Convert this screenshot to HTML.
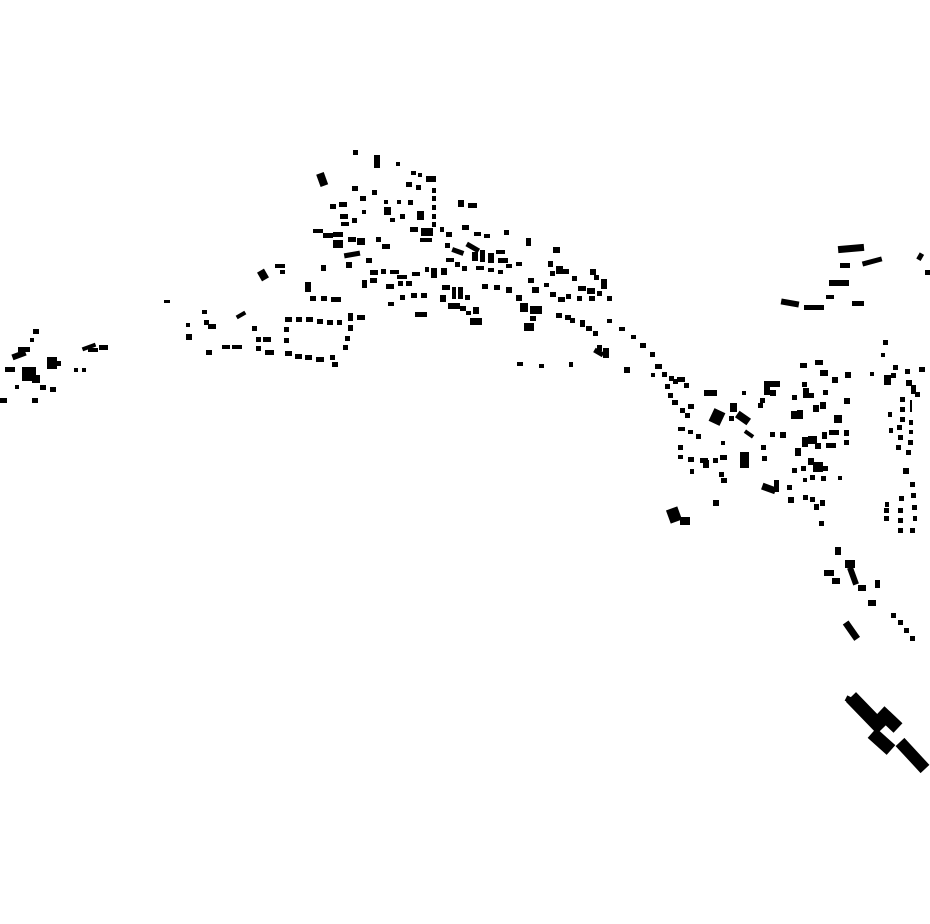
<!DOCTYPE html>
<html><head><meta charset="utf-8"><style>html,body{margin:0;padding:0;background:#fff}svg{display:block}</style></head>
<body>
<svg width="930" height="924" viewBox="0 0 930 924" xmlns="http://www.w3.org/2000/svg">
<g fill="#000">
<!-- left cluster -->
<rect x="33" y="329" width="6" height="5"/><rect x="30" y="338" width="4" height="4"/>
<rect x="12" y="352" width="14" height="6" transform="rotate(-20 19 355)"/><rect x="18" y="347" width="12" height="5"/>
<rect x="5" y="367" width="10" height="5"/><rect x="22" y="367" width="14" height="14"/><rect x="32" y="375" width="8" height="8"/>
<rect x="47" y="357" width="10" height="12"/><rect x="55" y="361" width="6" height="5"/>
<rect x="74" y="368" width="4" height="4"/><rect x="82" y="368" width="4" height="4"/>
<rect x="82" y="345" width="14" height="4" transform="rotate(-20 89 347)"/><rect x="88" y="348" width="10" height="4"/><rect x="99" y="345" width="9" height="5"/>
<rect x="40" y="385" width="6" height="5"/><rect x="50" y="387" width="6" height="5"/><rect x="32" y="398" width="6" height="5"/>
<rect x="0" y="398" width="7" height="5"/><rect x="15" y="385" width="4" height="4"/>
<!-- west chain -->
<rect x="164" y="300" width="6" height="3"/>
<rect x="186" y="323" width="4" height="4"/><rect x="186" y="334" width="6" height="6"/><rect x="202" y="310" width="5" height="4"/>
<rect x="204" y="320" width="5" height="5"/><rect x="208" y="324" width="8" height="5"/><rect x="206" y="350" width="6" height="5"/>
<rect x="222" y="345" width="8" height="4"/><rect x="232" y="345" width="10" height="4"/><rect x="236" y="313" width="10" height="4" transform="rotate(-30 241 315)"/>
<rect x="252" y="326" width="5" height="5"/><rect x="256" y="337" width="5" height="5"/><rect x="256" y="346" width="5" height="5"/>
<rect x="265" y="350" width="9" height="5"/><rect x="263" y="337" width="8" height="5"/><rect x="259" y="270" width="8" height="10" transform="rotate(-30 263 275)"/>
<rect x="275" y="264" width="10" height="4"/><rect x="280" y="270" width="5" height="4"/>
<rect x="285" y="317" width="7" height="5"/><rect x="296" y="317" width="6" height="5"/><rect x="306" y="317" width="7" height="5"/><rect x="317" y="319" width="6" height="5"/><rect x="327" y="320" width="6" height="5"/><rect x="337" y="320" width="5" height="5"/><rect x="348" y="313" width="5" height="8"/>
<rect x="284" y="327" width="5" height="5"/><rect x="284" y="338" width="5" height="5"/><rect x="348" y="325" width="5" height="6"/><rect x="345" y="336" width="5" height="5"/><rect x="343" y="345" width="5" height="5"/>
<rect x="285" y="351" width="7" height="5"/><rect x="295" y="354" width="7" height="5"/><rect x="305" y="355" width="7" height="5"/><rect x="316" y="357" width="8" height="5"/><rect x="330" y="355" width="5" height="5"/><rect x="332" y="362" width="6" height="5"/><rect x="357" y="315" width="8" height="5"/>
<!-- main cluster -->
<rect x="353" y="150" width="5" height="5"/><rect x="374" y="155" width="6" height="13"/><rect x="396" y="162" width="4" height="4"/>
<rect x="318" y="173" width="8" height="13" transform="rotate(-20 322 179)"/>
<rect x="411" y="171" width="5" height="4"/><rect x="418" y="173" width="4" height="4"/><rect x="426" y="176" width="10" height="6"/>
<rect x="406" y="182" width="6" height="5"/><rect x="416" y="185" width="5" height="5"/><rect x="432" y="188" width="4" height="5"/><rect x="432" y="196" width="4" height="5"/><rect x="432" y="205" width="4" height="5"/><rect x="432" y="214" width="4" height="5"/><rect x="432" y="222" width="4" height="5"/>
<rect x="352" y="186" width="6" height="5"/><rect x="360" y="196" width="6" height="5"/><rect x="372" y="190" width="5" height="5"/><rect x="384" y="200" width="4" height="4"/><rect x="397" y="200" width="4" height="4"/><rect x="408" y="200" width="5" height="5"/>
<rect x="330" y="204" width="6" height="5"/><rect x="339" y="202" width="8" height="5"/><rect x="340" y="214" width="8" height="5"/><rect x="341" y="222" width="8" height="4"/><rect x="352" y="218" width="5" height="5"/><rect x="362" y="210" width="4" height="4"/>
<rect x="384" y="207" width="7" height="8"/><rect x="390" y="218" width="5" height="4"/><rect x="400" y="214" width="5" height="5"/><rect x="417" y="211" width="7" height="9"/>
<rect x="458" y="200" width="6" height="7"/><rect x="468" y="203" width="9" height="5"/>
<rect x="313" y="229" width="10" height="4"/><rect x="323" y="233" width="10" height="5"/><rect x="333" y="232" width="10" height="5"/><rect x="333" y="240" width="10" height="8"/><rect x="348" y="237" width="8" height="5"/><rect x="357" y="238" width="8" height="7"/><rect x="376" y="237" width="5" height="5"/><rect x="382" y="244" width="8" height="5"/>
<rect x="410" y="227" width="8" height="5"/><rect x="421" y="228" width="12" height="8"/><rect x="420" y="238" width="12" height="4"/><rect x="440" y="227" width="4" height="5"/><rect x="446" y="232" width="6" height="5"/><rect x="462" y="225" width="7" height="5"/><rect x="474" y="232" width="7" height="4"/><rect x="484" y="234" width="6" height="4"/><rect x="504" y="230" width="5" height="5"/><rect x="526" y="238" width="5" height="8"/><rect x="553" y="247" width="7" height="6"/>
<rect x="344" y="252" width="16" height="5" transform="rotate(-10 352 254)"/><rect x="346" y="262" width="6" height="6"/><rect x="321" y="265" width="5" height="6"/><rect x="366" y="258" width="6" height="5"/><rect x="370" y="270" width="8" height="5"/><rect x="381" y="269" width="5" height="5"/><rect x="390" y="270" width="9" height="4"/>
<rect x="445" y="243" width="5" height="5"/><rect x="452" y="249" width="12" height="5" transform="rotate(20 458 251)"/><rect x="466" y="245" width="14" height="5" transform="rotate(30 473 247)"/><rect x="472" y="252" width="6" height="9"/><rect x="480" y="250" width="5" height="12"/><rect x="488" y="253" width="6" height="10"/><rect x="496" y="250" width="9" height="4"/><rect x="498" y="258" width="10" height="5"/><rect x="506" y="264" width="6" height="4"/><rect x="516" y="262" width="6" height="4"/>
<rect x="446" y="258" width="8" height="4"/><rect x="455" y="262" width="5" height="5"/><rect x="462" y="266" width="5" height="5"/><rect x="476" y="266" width="8" height="4"/><rect x="488" y="268" width="6" height="4"/><rect x="498" y="270" width="5" height="4"/>
<rect x="362" y="280" width="5" height="8"/><rect x="370" y="278" width="7" height="5"/><rect x="386" y="284" width="8" height="5"/><rect x="397" y="275" width="10" height="4"/><rect x="398" y="281" width="5" height="5"/><rect x="406" y="281" width="6" height="5"/><rect x="412" y="272" width="8" height="4"/><rect x="425" y="267" width="4" height="5"/><rect x="431" y="268" width="6" height="10"/><rect x="441" y="268" width="6" height="7"/>
<rect x="305" y="282" width="6" height="10"/><rect x="310" y="296" width="6" height="5"/><rect x="321" y="296" width="6" height="5"/><rect x="331" y="297" width="10" height="5"/><rect x="388" y="302" width="6" height="4"/><rect x="400" y="295" width="5" height="5"/><rect x="411" y="293" width="6" height="5"/><rect x="421" y="293" width="6" height="5"/><rect x="415" y="312" width="12" height="5"/>
<rect x="442" y="285" width="8" height="5"/><rect x="440" y="295" width="6" height="7"/><rect x="452" y="287" width="4" height="12"/><rect x="458" y="287" width="5" height="12"/><rect x="465" y="295" width="5" height="5"/><rect x="448" y="303" width="12" height="6"/><rect x="460" y="306" width="6" height="5"/><rect x="466" y="311" width="5" height="4"/><rect x="473" y="307" width="6" height="7"/><rect x="470" y="318" width="12" height="7"/>
<rect x="482" y="284" width="6" height="5"/><rect x="494" y="285" width="6" height="5"/><rect x="506" y="287" width="6" height="6"/><rect x="516" y="295" width="6" height="6"/><rect x="520" y="303" width="8" height="9"/><rect x="530" y="306" width="12" height="8"/><rect x="530" y="316" width="6" height="5"/><rect x="524" y="323" width="10" height="8"/>
<rect x="528" y="278" width="6" height="5"/><rect x="532" y="287" width="7" height="6"/><rect x="544" y="283" width="5" height="4"/><rect x="550" y="292" width="6" height="5"/><rect x="558" y="297" width="7" height="5"/><rect x="566" y="294" width="5" height="5"/><rect x="578" y="286" width="8" height="5"/><rect x="577" y="296" width="5" height="5"/>
<rect x="548" y="261" width="5" height="6"/><rect x="556" y="266" width="7" height="8"/><rect x="562" y="269" width="7" height="5"/><rect x="550" y="271" width="5" height="5"/><rect x="572" y="276" width="5" height="5"/><rect x="587" y="288" width="8" height="6"/>
<rect x="590" y="269" width="6" height="6"/><rect x="594" y="275" width="5" height="5"/><rect x="601" y="279" width="6" height="10"/><rect x="597" y="291" width="5" height="5"/><rect x="607" y="296" width="5" height="5"/><rect x="589" y="296" width="6" height="5"/>
<rect x="556" y="313" width="6" height="5"/><rect x="565" y="315" width="6" height="5"/><rect x="570" y="318" width="5" height="5"/><rect x="580" y="320" width="5" height="7"/><rect x="586" y="326" width="6" height="5"/><rect x="593" y="331" width="5" height="5"/><rect x="597" y="345" width="5" height="6"/><rect x="603" y="348" width="6" height="10"/><rect x="594" y="350" width="10" height="5" transform="rotate(30 599 352)"/>
<rect x="517" y="362" width="6" height="4"/><rect x="539" y="364" width="5" height="4"/><rect x="569" y="362" width="4" height="5"/>
<!-- diagonal chain -->
<rect x="607" y="319" width="5" height="4"/><rect x="619" y="327" width="6" height="4"/><rect x="631" y="335" width="5" height="4"/><rect x="640" y="343" width="6" height="5"/><rect x="650" y="352" width="5" height="5"/><rect x="624" y="367" width="6" height="6"/><rect x="655" y="364" width="7" height="5"/><rect x="662" y="372" width="5" height="5"/><rect x="669" y="376" width="5" height="5"/><rect x="677" y="377" width="8" height="5"/><rect x="684" y="383" width="5" height="5"/><rect x="651" y="373" width="4" height="4"/>
<!-- east cluster -->
<rect x="665" y="384" width="5" height="5"/><rect x="668" y="393" width="5" height="5"/><rect x="673" y="379" width="5" height="5"/><rect x="672" y="400" width="6" height="5"/>
<rect x="704" y="390" width="13" height="6"/><rect x="764" y="381" width="16" height="6"/><rect x="764" y="381" width="6" height="14"/><rect x="770" y="390" width="6" height="6"/>
<rect x="680" y="408" width="5" height="5"/><rect x="688" y="404" width="6" height="5"/><rect x="685" y="413" width="5" height="5"/>
<rect x="711" y="410" width="12" height="14" transform="rotate(25 717 417)"/><rect x="730" y="403" width="7" height="9"/><rect x="729" y="416" width="5" height="5"/><rect x="736" y="414" width="14" height="8" transform="rotate(35 743 418)"/><rect x="744" y="432" width="10" height="4" transform="rotate(35 749 434)"/>
<rect x="742" y="391" width="4" height="4"/><rect x="760" y="398" width="5" height="5"/><rect x="758" y="403" width="5" height="5"/>
<rect x="678" y="427" width="7" height="4"/><rect x="688" y="430" width="5" height="4"/><rect x="696" y="434" width="5" height="5"/><rect x="678" y="445" width="5" height="5"/><rect x="678" y="455" width="5" height="4"/><rect x="688" y="457" width="6" height="5"/><rect x="700" y="458" width="8" height="5"/><rect x="703" y="460" width="6" height="8"/><rect x="713" y="458" width="5" height="5"/><rect x="720" y="455" width="7" height="5"/><rect x="740" y="452" width="9" height="16"/><rect x="762" y="456" width="5" height="5"/><rect x="690" y="469" width="4" height="5"/>
<rect x="719" y="472" width="5" height="5"/><rect x="721" y="478" width="6" height="5"/><rect x="713" y="500" width="6" height="6"/><rect x="721" y="441" width="4" height="4"/>
<rect x="668" y="508" width="12" height="14" transform="rotate(-20 674 515)"/><rect x="680" y="517" width="10" height="8"/>
<rect x="770" y="432" width="5" height="5"/><rect x="761" y="445" width="5" height="5"/>
<rect x="800" y="363" width="7" height="5"/><rect x="815" y="360" width="8" height="5"/><rect x="820" y="370" width="8" height="6"/><rect x="832" y="377" width="6" height="6"/><rect x="845" y="372" width="6" height="6"/>
<rect x="802" y="382" width="5" height="5"/><rect x="803" y="388" width="6" height="10"/><rect x="808" y="393" width="6" height="5"/><rect x="792" y="395" width="5" height="5"/><rect x="823" y="390" width="5" height="5"/><rect x="844" y="398" width="6" height="6"/>
<rect x="791" y="411" width="12" height="8"/><rect x="797" y="410" width="6" height="9"/><rect x="813" y="405" width="6" height="7"/><rect x="820" y="402" width="6" height="7"/><rect x="834" y="415" width="8" height="8"/><rect x="780" y="432" width="6" height="6"/>
<rect x="795" y="448" width="6" height="8"/><rect x="802" y="437" width="6" height="10"/><rect x="808" y="436" width="9" height="8"/><rect x="815" y="443" width="6" height="6"/><rect x="822" y="432" width="5" height="7"/><rect x="826" y="443" width="10" height="5"/><rect x="829" y="430" width="10" height="5"/><rect x="844" y="430" width="5" height="6"/><rect x="844" y="440" width="5" height="5"/>
<rect x="808" y="458" width="6" height="7"/><rect x="813" y="462" width="10" height="10"/><rect x="823" y="466" width="5" height="5"/><rect x="821" y="476" width="5" height="5"/><rect x="838" y="476" width="4" height="4"/><rect x="801" y="466" width="5" height="5"/><rect x="792" y="468" width="5" height="5"/><rect x="803" y="478" width="4" height="4"/><rect x="810" y="475" width="5" height="5"/>
<rect x="762" y="485" width="14" height="7" transform="rotate(20 769 488)"/><rect x="774" y="480" width="5" height="12"/><rect x="787" y="485" width="5" height="5"/><rect x="788" y="497" width="6" height="6"/><rect x="803" y="495" width="5" height="5"/><rect x="810" y="497" width="5" height="5"/><rect x="814" y="504" width="5" height="6"/><rect x="820" y="500" width="5" height="6"/><rect x="819" y="521" width="5" height="5"/>
<!-- right column -->
<rect x="883" y="340" width="5" height="5"/><rect x="881" y="353" width="4" height="4"/><rect x="884" y="375" width="7" height="10"/><rect x="891" y="373" width="5" height="5"/><rect x="893" y="365" width="5" height="5"/><rect x="870" y="372" width="4" height="4"/><rect x="905" y="369" width="5" height="5"/><rect x="919" y="367" width="6" height="5"/><rect x="906" y="380" width="6" height="6"/><rect x="911" y="385" width="5" height="9"/><rect x="915" y="392" width="5" height="5"/>
<rect x="900" y="397" width="5" height="5"/><rect x="910" y="400" width="2" height="12"/><rect x="900" y="407" width="5" height="5"/><rect x="888" y="412" width="4" height="5"/><rect x="900" y="417" width="5" height="5"/><rect x="909" y="420" width="4" height="5"/><rect x="889" y="428" width="4" height="5"/><rect x="897" y="425" width="5" height="5"/><rect x="909" y="430" width="4" height="4"/><rect x="898" y="435" width="5" height="5"/><rect x="908" y="440" width="5" height="5"/><rect x="896" y="445" width="5" height="5"/><rect x="906" y="450" width="5" height="5"/><rect x="903" y="468" width="6" height="6"/>
<rect x="910" y="482" width="5" height="5"/><rect x="911" y="493" width="5" height="5"/><rect x="899" y="496" width="5" height="5"/><rect x="885" y="502" width="4" height="5"/><rect x="884" y="508" width="5" height="5"/><rect x="898" y="508" width="5" height="5"/><rect x="912" y="505" width="5" height="5"/><rect x="884" y="516" width="5" height="5"/><rect x="898" y="518" width="5" height="5"/><rect x="913" y="516" width="4" height="5"/><rect x="898" y="528" width="5" height="5"/><rect x="910" y="528" width="5" height="5"/>
<!-- top right -->
<rect x="838" y="245" width="26" height="7" transform="rotate(-5 851 248)"/><rect x="840" y="263" width="10" height="5"/><rect x="862" y="259" width="20" height="5" transform="rotate(-15 872 261)"/><rect x="829" y="280" width="20" height="6"/><rect x="826" y="295" width="8" height="4"/><rect x="781" y="300" width="18" height="6" transform="rotate(10 790 303)"/><rect x="804" y="305" width="20" height="5"/><rect x="852" y="301" width="12" height="5"/><rect x="918" y="253" width="5" height="7" transform="rotate(30 920 256)"/><rect x="925" y="270" width="5" height="5"/>
<!-- south chain -->
<rect x="835" y="547" width="6" height="8"/><rect x="845" y="560" width="10" height="8"/><rect x="824" y="570" width="10" height="6"/><rect x="832" y="578" width="8" height="6"/><rect x="850" y="567" width="6" height="18" transform="rotate(-20 853 576)"/><rect x="858" y="585" width="8" height="6"/><rect x="875" y="580" width="5" height="8"/><rect x="868" y="600" width="8" height="6"/><rect x="891" y="613" width="5" height="5"/><rect x="898" y="620" width="5" height="5"/><rect x="904" y="628" width="5" height="5"/><rect x="910" y="636" width="5" height="5"/>
<rect x="848" y="621" width="7" height="20" transform="rotate(-35 851 631)"/>
</g>
<!-- big southeast shape -->
<g stroke="#000" stroke-linecap="butt" fill="none">
<line x1="851" y1="697" x2="882" y2="729" stroke-width="14"/>
<line x1="880" y1="711" x2="898" y2="728" stroke-width="13"/>
<line x1="872" y1="733" x2="891" y2="750" stroke-width="13"/>
<line x1="900" y1="742" x2="925" y2="769" stroke-width="12"/>
<line x1="846" y1="698" x2="858" y2="704" stroke-width="6"/>
</g>
</svg>
</body></html>
